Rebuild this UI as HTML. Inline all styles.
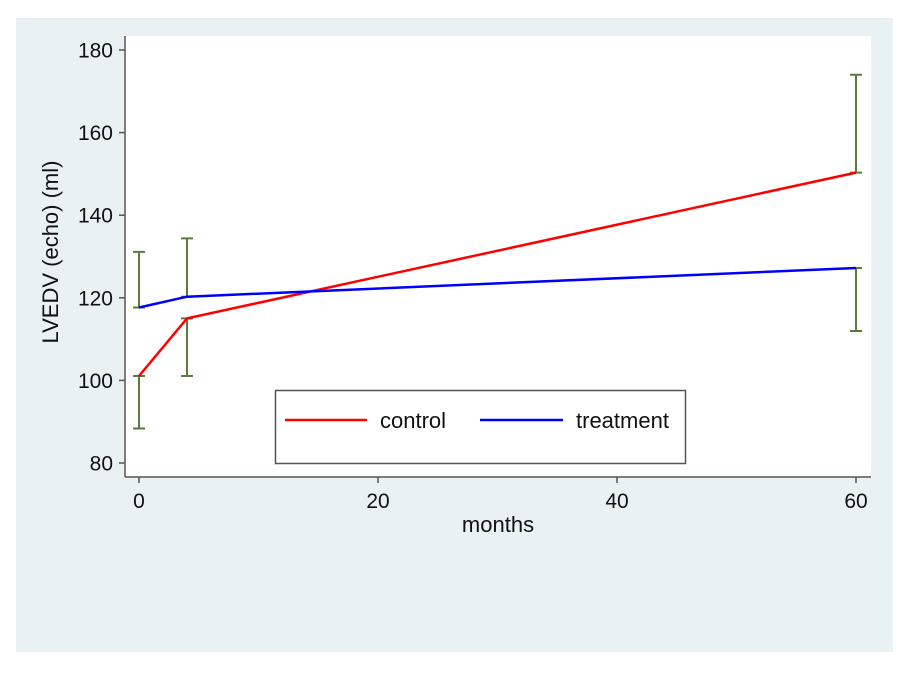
<!DOCTYPE html><html><head><style>body{margin:0;background:#fff}</style></head><body>
<svg width="910" height="670" xmlns="http://www.w3.org/2000/svg" font-family="Liberation Sans, Arial, sans-serif">
<rect x="16" y="18" width="877" height="634" fill="#e9f1f3"/>
<rect x="125" y="36" width="746" height="441" fill="#fff"/>
<g stroke="#555" stroke-width="1.5" fill="none">
<line x1="125" y1="36" x2="125" y2="477"/><line x1="125" y1="477" x2="871" y2="477"/>
<line x1="119" y1="50" x2="125" y2="50"/><line x1="119" y1="132.6" x2="125" y2="132.6"/><line x1="119" y1="215.2" x2="125" y2="215.2"/><line x1="119" y1="297.8" x2="125" y2="297.8"/><line x1="119" y1="380.4" x2="125" y2="380.4"/><line x1="119" y1="463" x2="125" y2="463"/>
<line x1="139" y1="477" x2="139" y2="483"/><line x1="378" y1="477" x2="378" y2="483"/><line x1="617" y1="477" x2="617" y2="483"/><line x1="856" y1="477" x2="856" y2="483"/>
</g>
<g font-size="21" fill="#111" text-anchor="end">
<text x="113" y="57.5">180</text><text x="113" y="140">160</text><text x="113" y="222.7">140</text><text x="113" y="305.3">120</text><text x="113" y="388">100</text><text x="113" y="470.5">80</text></g>
<g font-size="21" fill="#111" text-anchor="middle">
<text x="139" y="508">0</text><text x="378" y="508">20</text><text x="617" y="508">40</text><text x="856" y="508">60</text>
<text x="498" y="532" font-size="22">months</text>
<text transform="translate(58,252) rotate(-90)" font-size="22">LVEDV (echo) (ml)</text></g>
<g stroke="#5b7a3c" stroke-width="2" fill="none">
<path d="M139 376V428.5M133 376H145M133 428.5H145"/>
<path d="M187 318.4V376M181 318.4H193M181 376H193"/>
<path d="M856 172.6V74.8M850 172.6H862M850 74.8H862"/>
<path d="M139 307.5V251.9M133 307.5H145M133 251.9H145"/>
<path d="M187 296.7V238.4M181 296.7H193M181 238.4H193"/>
<path d="M856 268V331M850 268H862M850 331H862"/>
</g>
<polyline points="139,376 187,318.4 856,172.6" fill="none" stroke="#ff0000" stroke-width="2.5"/>
<polyline points="139,307.5 187,296.7 856,268" fill="none" stroke="#0000ff" stroke-width="2.5"/>
<rect x="275.5" y="390.5" width="410" height="73" fill="#fff" stroke="#555" stroke-width="1.5"/>
<line x1="285" y1="420" x2="367" y2="420" stroke="#ff0000" stroke-width="2.5"/>
<line x1="480" y1="420" x2="563" y2="420" stroke="#0000ff" stroke-width="2.5"/>
<text x="380" y="428" font-size="22" fill="#111">control</text>
<text x="576" y="428" font-size="22" fill="#111">treatment</text>
</svg></body></html>
